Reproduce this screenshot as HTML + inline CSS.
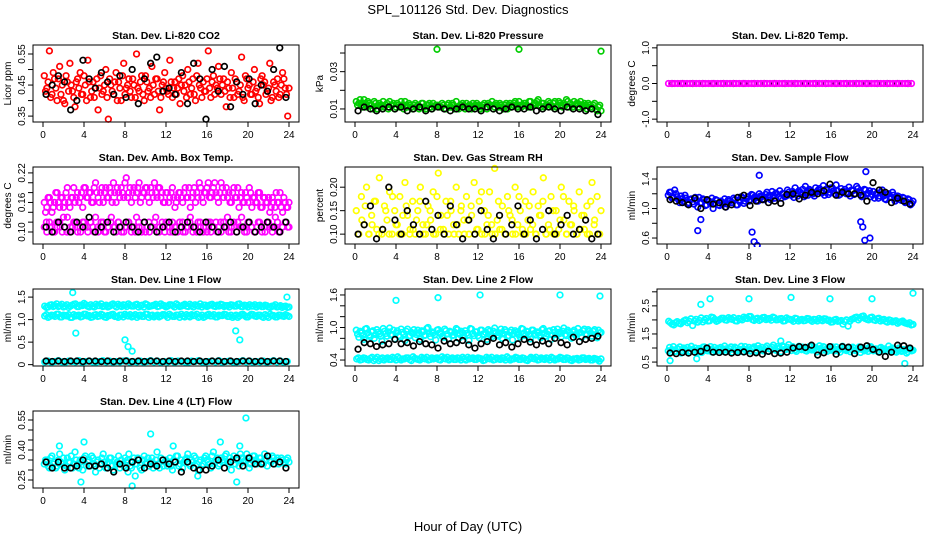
<!DOCTYPE html>
<html><head><meta charset="utf-8"><style>
html,body{margin:0;padding:0;background:#fff;}
svg{display:block;font-family:"Liberation Sans",sans-serif;}
</style></head><body>
<svg id="chart" width="936" height="540" viewBox="0 0 936 540" xmlns="http://www.w3.org/2000/svg">
<rect x="0" y="0" width="936" height="540" fill="#fff"/>
<text x="468" y="14" text-anchor="middle" font-size="13">SPL_101126  Std. Dev. Diagnostics</text>
<text x="468" y="531" text-anchor="middle" font-size="13">Hour of Day (UTC)</text>
</svg>
<script>
// ---------- data ----------
const hourTicks = [0,4,8,12,16,20,24];
const co2Vals = [0.48,0.44,0.56,0.42,0.47,0.40,0.51,0.45,0.39,0.46,0.52,0.43,0.38,0.47,0.49,0.42,0.45,0.53,0.41,0.46,0.44,0.37,0.48,0.43,0.50,0.34,0.45,0.42,0.49,0.46,0.40,0.52,0.44,0.47,0.41,0.45,0.55,0.43,0.48,0.40,0.46,0.44,0.51,0.42,0.47,0.37,0.45,0.49,0.43,0.53,0.41,0.46,0.44,0.39,0.48,0.45,0.50,0.42,0.47,0.40,0.52,0.44,0.46,0.43,0.56,0.41,0.48,0.45,0.51,0.42,0.47,0.38,0.44,0.49,0.41,0.46,0.43,0.54,0.40,0.47,0.45,0.42,0.50,0.44,0.39,0.48,0.46,0.43,0.52,0.41,0.45,0.47,0.42,0.49,0.44,0.35];
const co2Vals2 = [0.43,0.46,0.41,0.49,0.44,0.47,0.42,0.40,0.48,0.43,0.45,0.41,0.46,0.44,0.42,0.48,0.40,0.46,0.43,0.41,0.47,0.44,0.42,0.45,0.41,0.47,0.43,0.46,0.40,0.44,0.48,0.42,0.45,0.43,0.47,0.41,0.44,0.46,0.42,0.48,0.43,0.41,0.45,0.47,0.43,0.41,0.46,0.44,0.42,0.46,0.44,0.42,0.47,0.45,0.43,0.41,0.46,0.44,0.42,0.48,0.45,0.41,0.43,0.47,0.44,0.46,0.42,0.44,0.47,0.45,0.43,0.46,0.41,0.44,0.47,0.42,0.45,0.41,0.48,0.44,0.42,0.46,0.43,0.41,0.47,0.45,0.42,0.44,0.40,0.46,0.43,0.41,0.45,0.47,0.42,0.44];
const co2Black = [0.42,0.45,0.48,0.46,0.37,0.40,0.53,0.47,0.44,0.49,0.46,0.42,0.48,0.41,0.50,0.39,0.47,0.52,0.54,0.43,0.44,0.42,0.49,0.39,0.52,0.47,0.34,0.50,0.43,0.51,0.38,0.46,0.42,0.47,0.39,0.45,0.43,0.50,0.57,0.41];
const presVals = [0.014,0.013,0.012,0.015,0.011,0.013,0.012,0.014,0.010,0.013,0.012,0.011,0.013,0.014,0.012,0.010,0.013,0.011,0.012,0.014,0.011,0.012,0.010,0.013,0.012,0.011,0.013,0.010,0.012,0.011,0.013,0.012,0.012,0.011,0.012,0.010,0.013,0.011,0.012,0.014,0.010,0.012,0.011,0.013,0.012,0.010,0.011,0.013,0.012,0.011,0.013,0.010,0.012,0.014,0.011,0.012,0.013,0.011,0.012,0.010,0.013,0.012,0.014,0.011,0.012,0.012,0.013,0.011,0.014,0.012,0.013,0.015,0.011,0.013,0.012,0.014,0.012,0.013,0.011,0.014,0.012,0.013,0.015,0.011,0.012,0.014,0.013,0.011,0.012,0.013,0.010,0.012,0.011,0.013,0.009,0.012];
const presVals2 = [0.012,0.015,0.011,0.013,0.014,0.012,0.010,0.013,0.012,0.011,0.014,0.012,0.010,0.012,0.013,0.011,0.012,0.014,0.010,0.012,0.013,0.011,0.012,0.011,0.010,0.013,0.011,0.012,0.013,0.010,0.011,0.012,0.011,0.013,0.010,0.012,0.011,0.013,0.010,0.011,0.012,0.013,0.010,0.011,0.012,0.013,0.012,0.011,0.010,0.012,0.011,0.013,0.012,0.010,0.013,0.011,0.012,0.010,0.013,0.012,0.011,0.013,0.012,0.014,0.011,0.013,0.012,0.014,0.011,0.012,0.014,0.012,0.013,0.011,0.012,0.013,0.011,0.014,0.012,0.013,0.011,0.012,0.014,0.013,0.011,0.012,0.013,0.014,0.011,0.012,0.013,0.011,0.012,0.010,0.011,0.009];
const presBlack = [0.009,0.011,0.010,0.009,0.010,0.011,0.010,0.011,0.009,0.010,0.011,0.009,0.010,0.011,0.010,0.009,0.010,0.011,0.010,0.010,0.009,0.011,0.010,0.009,0.010,0.011,0.010,0.010,0.011,0.009,0.010,0.011,0.010,0.009,0.011,0.010,0.010,0.009,0.010,0.007];
const presOutX = [8.0,16.0,24.0];
const presOutY = [0.042,0.042,0.041];
const tempVals = [0,0,0,0,0,0,0,0,0,0,0,0,0,0,0,0,0,0,0,0,0,0,0,0,0,0,0,0,0,0,0,0,0,0,0,0,0,0,0,0,0,0,0,0,0,0,0,0,0,0,0,0,0,0,0,0,0,0,0,0,0,0,0,0,0,0,0,0,0,0,0,0,0,0,0,0,0,0,0,0];
const tempBlack = [0,0,0,0,0,0,0,0,0,0,0,0,0,0,0,0,0,0,0,0,0,0,0,0];
const ambHi = [0.16,0.15,0.17,0.14,0.16,0.18,0.15,0.17,0.16,0.19,0.15,0.17,0.16,0.18,0.17,0.15,0.19,0.17,0.18,0.16,0.20,0.17,0.18,0.16,0.19,0.17,0.18,0.20,0.16,0.18,0.19,0.17,0.21,0.18,0.16,0.19,0.18,0.20,0.17,0.18,0.19,0.16,0.18,0.20,0.17,0.19,0.18,0.16,0.18,0.17,0.19,0.15,0.17,0.18,0.16,0.19,0.17,0.15,0.18,0.16,0.17,0.19,0.16,0.18,0.20,0.17,0.19,0.18,0.16,0.20,0.17,0.19,0.18,0.16,0.19,0.17,0.15,0.18,0.16,0.17,0.19,0.15,0.17,0.16,0.18,0.15,0.17,0.16,0.14,0.17,0.15,0.16,0.18,0.14,0.16,0.15];
const ambHi2 = [0.14,0.17,0.16,0.15,0.18,0.16,0.17,0.15,0.18,0.16,0.17,0.19,0.17,0.16,0.18,0.19,0.17,0.18,0.16,0.19,0.18,0.16,0.19,0.18,0.17,0.19,0.16,0.18,0.19,0.17,0.18,0.20,0.17,0.19,0.18,0.17,0.19,0.16,0.18,0.19,0.17,0.19,0.17,0.18,0.19,0.17,0.16,0.18,0.16,0.18,0.17,0.16,0.18,0.17,0.18,0.17,0.19,0.17,0.19,0.18,0.20,0.17,0.18,0.19,0.17,0.18,0.20,0.17,0.18,0.19,0.18,0.17,0.16,0.18,0.17,0.19,0.17,0.16,0.18,0.16,0.18,0.17,0.16,0.18,0.15,0.17,0.16,0.17,0.15,0.16,0.18,0.16,0.15,0.17,0.15,0.16];
const ambLo = [0.11,0.10,0.12,0.11,0.10,0.11,0.12,0.10,0.11,0.13,0.10,0.11,0.12,0.10,0.11,0.12,0.11,0.10,0.12,0.11,0.13,0.10,0.11,0.12,0.10,0.11,0.12,0.11,0.10,0.12,0.11,0.10,0.11,0.12,0.10,0.11,0.13,0.11,0.10,0.12,0.11,0.10,0.11,0.12,0.10,0.11,0.12,0.10,0.11,0.10,0.12,0.11,0.10,0.11,0.12,0.10,0.11,0.13,0.10,0.11,0.12,0.11,0.10,0.11,0.12,0.10,0.11,0.12,0.11,0.10,0.12,0.11,0.10,0.11,0.12,0.10,0.11,0.13,0.11,0.10,0.12,0.11,0.10,0.11,0.12,0.10,0.11,0.12,0.11,0.10,0.11,0.12,0.10,0.11,0.12,0.11];
const ambLo2 = [0.12,0.11,0.10,0.12,0.11,0.13,0.10,0.11,0.12,0.11,0.10,0.12,0.11,0.12,0.10,0.11,0.12,0.10,0.11,0.13,0.11,0.12,0.10,0.11,0.12,0.11,0.10,0.12,0.11,0.10,0.12,0.11,0.13,0.10,0.11,0.12,0.11,0.10,0.11,0.12,0.10,0.11,0.12,0.11,0.10,0.12,0.11,0.10,0.12,0.11,0.10,0.12,0.11,0.13,0.10,0.11,0.12,0.11,0.10,0.12,0.11,0.10,0.12,0.11,0.10,0.12,0.11,0.13,0.10,0.11,0.12,0.11];
const ambBlack = [0.11,0.10,0.12,0.11,0.10,0.12,0.11,0.13,0.10,0.11,0.12,0.10,0.11,0.12,0.11,0.10,0.12,0.11,0.10,0.11,0.12,0.10,0.11,0.12,0.11,0.10,0.12,0.11,0.10,0.11,0.12,0.10,0.11,0.12,0.10,0.11,0.12,0.11,0.10,0.12];
const rhVals = [0.15,0.10,0.18,0.12,0.20,0.10,0.14,0.17,0.11,0.22,0.10,0.16,0.13,0.19,0.10,0.15,0.12,0.18,0.10,0.21,0.14,0.11,0.17,0.10,0.15,0.20,0.12,0.10,0.16,0.13,0.19,0.10,0.23,0.14,0.11,0.17,0.10,0.15,0.12,0.20,0.10,0.16,0.13,0.18,0.10,0.14,0.21,0.11,0.17,0.10,0.15,0.12,0.19,0.10,0.24,0.13,0.11,0.16,0.10,0.18,0.14,0.10,0.20,0.12,0.15,0.10,0.17,0.13,0.11,0.19,0.10,0.16,0.14,0.22,0.10,0.12,0.18,0.10,0.15,0.11,0.20,0.13,0.10,0.17,0.12,0.15,0.10,0.19,0.14,0.11,0.16,0.10,0.21,0.13,0.18,0.10];
const rhVals2 = [0.10,0.13,0.16,0.10,0.12,0.17,0.10,0.11,0.15,0.10,0.18,0.12,0.10,0.14,0.16,0.10,0.11,0.13,0.17,0.10,0.12,0.15,0.10,0.18,0.11,0.10,0.14,0.17,0.10,0.12,0.15,0.10,0.13,0.16,0.10,0.11,0.19,0.10,0.14,0.12,0.10,0.17,0.11,0.10,0.15,0.13,0.10,0.18,0.11,0.10,0.16,0.12,0.10,0.14,0.17,0.10,0.11,0.15,0.10,0.13,0.18,0.10,0.12,0.16,0.10,0.11,0.14,0.10,0.17,0.12,0.10,0.15];
const rhBlack = [0.10,0.12,0.16,0.09,0.11,0.20,0.13,0.10,0.15,0.12,0.10,0.17,0.11,0.14,0.10,0.16,0.12,0.09,0.13,0.10,0.15,0.11,0.09,0.14,0.10,0.12,0.16,0.10,0.13,0.09,0.11,0.15,0.10,0.12,0.14,0.10,0.11,0.13,0.09,0.10];
const flowVals = [1.18,1.22,1.15,1.20,1.12,1.17,1.10,1.14,1.08,1.13,1.06,1.11,1.15,1.08,1.12,1.05,1.10,1.14,1.07,1.11,1.04,1.09,1.13,1.06,1.10,1.08,1.12,1.05,1.09,1.14,1.10,1.16,1.12,1.18,1.14,1.10,1.17,1.13,1.19,1.15,1.12,1.18,1.21,1.16,1.14,1.20,1.17,1.22,1.18,1.15,1.21,1.24,1.19,1.16,1.22,1.26,1.20,1.17,1.23,1.27,1.21,1.18,1.25,1.22,1.28,1.20,1.24,1.19,1.23,1.26,1.21,1.17,1.24,1.20,1.27,1.22,1.18,1.25,1.21,1.16,1.23,1.19,1.14,1.22,1.17,1.12,1.20,1.15,1.18,1.13,1.16,1.11,1.14,1.09,1.12,1.07];
const flowVals2 = [1.22,1.14,1.25,1.16,1.08,1.13,1.18,1.06,1.12,1.09,1.15,1.02,1.08,1.13,1.04,1.11,1.07,1.00,1.12,1.05,1.10,1.06,1.02,1.12,1.08,1.14,1.05,1.11,1.16,1.07,1.13,1.10,1.19,1.15,1.11,1.20,1.16,1.12,1.22,1.18,1.23,1.14,1.19,1.24,1.20,1.16,1.25,1.19,1.23,1.28,1.17,1.22,1.26,1.30,1.18,1.24,1.20,1.28,1.25,1.22,1.31,1.26,1.19,1.28,1.24,1.32,1.18,1.27,1.23,1.20,1.29,1.25,1.19,1.30,1.22,1.16,1.26,1.20,1.24,1.19,1.14,1.21,1.17,1.25,1.13,1.19,1.16,1.22,1.10,1.17,1.12,1.15,1.08,1.13,1.05,1.10];
const flowOutX = [3.0,3.3,8.3,8.5,8.8,9.0,18.9,19.1,19.3,19.4,19.8];
const flowOutY = [0.70,0.85,0.68,0.55,0.50,1.45,0.82,0.75,0.57,1.50,0.60];
const flowBlack = [1.12,1.10,1.08,1.05,1.14,1.00,1.12,1.06,1.08,1.02,1.05,1.15,1.18,1.04,1.10,1.12,1.08,1.10,1.07,1.19,1.20,1.13,1.18,1.22,1.20,1.24,1.33,1.18,1.22,1.20,1.20,1.18,1.10,1.35,1.25,1.22,1.08,1.14,1.10,1.06];
const l1Hi = [1.30,1.28,1.33,1.31,1.29,1.34,1.30,1.27,1.32,1.35,1.29,1.31,1.33,1.28,1.30,1.34,1.31,1.29,1.32,1.30,1.35,1.28,1.31,1.33,1.29,1.32,1.30,1.34,1.31,1.28,1.33,1.30,1.32,1.29,1.35,1.31,1.30,1.33,1.28,1.32,1.30,1.34,1.29,1.31,1.33,1.30,1.28,1.32,1.31,1.34,1.29,1.30,1.33,1.31,1.28,1.32,1.30,1.35,1.29,1.31,1.33,1.30,1.28,1.32,1.29,1.31,1.27,1.30,1.28,1.31,1.29,1.27];
const l1Hi2 = [1.27,1.32,1.29,1.35,1.31,1.28,1.33,1.30,1.34,1.29,1.32,1.36,1.30,1.33,1.28,1.31,1.35,1.30,1.28,1.33,1.31,1.34,1.29,1.32,1.35,1.30,1.33,1.28,1.32,1.35,1.29,1.31,1.34,1.30,1.32,1.28,1.33,1.31,1.35,1.29,1.32,1.30,1.34,1.28,1.31,1.35,1.32,1.29,1.33,1.30,1.32,1.34,1.29,1.31,1.33,1.30,1.34,1.29,1.32,1.28,1.30,1.33,1.31,1.29,1.32,1.28,1.30,1.33,1.29,1.27,1.30,1.28];
const l1Mid = [1.08,1.05,1.10,1.07,1.12,1.06,1.09,1.11,1.05,1.08,1.10,1.07,1.12,1.09,1.06,1.11,1.08,1.10,1.05,1.09,1.12,1.07,1.10,1.06,1.09,1.11,1.08,1.05,1.10,1.07,1.12,1.09,1.06,1.10,1.08,1.11,1.05,1.09,1.07,1.10,1.12,1.06,1.08,1.11,1.09,1.05,1.10,1.07,1.12,1.08,1.06,1.10,1.09,1.11,1.07,1.05,1.10,1.08,1.12,1.06,1.09,1.11,1.07,1.10,1.05,1.08,1.12,1.09,1.06,1.10,1.07,1.09];
const l1Mid2 = [1.11,1.07,1.09,1.12,1.06,1.10,1.08,1.05,1.11,1.09,1.06,1.12,1.08,1.05,1.10,1.07,1.12,1.06,1.09,1.11,1.07,1.05,1.10,1.12,1.08,1.06,1.11,1.09,1.07,1.12,1.05,1.10,1.08,1.06,1.11,1.09,1.12,1.07,1.10,1.05,1.08,1.11,1.06,1.09,1.12,1.07,1.05,1.10,1.08,1.11,1.06,1.09,1.12,1.07,1.10,1.08,1.05,1.11,1.09,1.06,1.12,1.08,1.10,1.07,1.11,1.05,1.09,1.06,1.10,1.08,1.11,1.07];
const l1Lo = [0.06,0.08,0.05,0.07,0.09,0.06,0.05,0.08,0.07,0.06,0.09,0.05,0.07,0.08,0.06,0.05,0.07,0.09,0.06,0.08,0.05,0.07,0.06,0.08,0.09,0.05,0.07,0.06,0.08,0.05,0.07,0.09,0.06,0.08,0.05,0.07,0.06,0.09,0.05,0.08,0.07,0.06,0.05,0.08,0.07,0.09,0.06,0.05,0.07,0.08,0.06,0.09,0.05,0.07,0.08,0.06,0.05,0.07,0.09,0.06,0.08,0.05,0.07,0.06,0.08,0.05,0.07,0.09,0.06,0.08,0.05,0.07];
const l1OutX = [2.9,3.2,8.0,8.3,8.7,18.8,19.2,23.8];
const l1OutY = [1.60,0.70,0.55,0.40,0.30,0.75,0.55,1.50];
const l1Black = [0.08,0.07,0.08,0.07,0.08,0.08,0.07,0.08,0.08,0.07,0.08,0.07,0.08,0.08,0.07,0.08,0.07,0.08,0.08,0.07,0.08,0.07,0.08,0.08,0.07,0.08,0.07,0.08,0.08,0.07,0.08,0.07,0.08,0.08,0.07,0.08,0.07,0.08,0.08,0.07];
const l2Hi = [0.95,0.82,0.90,0.78,0.98,0.86,0.92,0.80,0.96,0.88,0.75,0.93,0.84,0.99,0.87,0.79,0.94,0.83,0.91,0.76,0.97,0.85,0.89,0.81,0.95,0.78,0.92,0.86,1.00,0.83,0.90,0.77,0.96,0.88,0.82,0.94,0.79,0.91,0.86,0.98,0.80,0.93,0.84,0.89,0.76,0.97,0.85,0.92,0.81,0.95,0.87,0.78,0.93,0.83,0.99,0.86,0.90,0.80,0.96,0.84,0.91,0.77,0.94,0.88,0.82,0.97,0.85,0.92,0.79,0.95,0.86,0.90,0.81,0.98,0.84,0.93,0.78,0.96,0.87,0.91,0.83,0.99,0.85,0.92,0.80,0.95,0.88,0.90,0.82,0.97,0.86,0.93,0.84,0.96,0.81,0.90];
const l2Hi2 = [0.88,0.93,0.85,0.97,0.90,0.83,0.94,0.87,0.91,0.84,0.98,0.89,0.92,0.86,0.95,0.90,0.85,0.97,0.88,0.93,0.84,0.91,0.96,0.87,0.90,0.94,0.85,0.98,0.89,0.92,0.86,0.95,0.90,0.84,0.97,0.88,0.93,0.85,0.91,0.96,0.87,0.90,0.94,0.86,0.98,0.89,0.92,0.85,0.95,0.88,0.91,0.96,0.86,0.93,0.90,0.84,0.97,0.88,0.92,0.85,0.95,0.89,0.91,0.86,0.98,0.90,0.93,0.87,0.95,0.89,0.92,0.86,0.96,0.90,0.88,0.94,0.86,0.91,0.97,0.89,0.93,0.87,0.95,0.90,0.92,0.86,0.98,0.91,0.94,0.88,0.96,0.90,0.93,0.87,0.95,0.91];
const l2Lo = [0.42,0.40,0.44,0.41,0.43,0.39,0.45,0.42,0.40,0.44,0.41,0.43,0.46,0.40,0.42,0.44,0.39,0.43,0.41,0.45,0.42,0.40,0.44,0.43,0.41,0.46,0.42,0.40,0.44,0.41,0.43,0.45,0.40,0.42,0.44,0.41,0.43,0.39,0.45,0.42,0.40,0.44,0.41,0.43,0.46,0.40,0.42,0.44,0.41,0.43,0.39,0.45,0.42,0.40,0.44,0.41,0.43,0.45,0.40,0.42,0.44,0.41,0.43,0.39,0.42,0.40,0.44,0.41,0.43,0.40,0.42,0.38];
const l2Lo2 = [0.44,0.41,0.43,0.40,0.45,0.42,0.39,0.44,0.42,0.41,0.45,0.40,0.43,0.42,0.44,0.41,0.46,0.42,0.40,0.43,0.45,0.41,0.42,0.44,0.40,0.43,0.45,0.42,0.41,0.44,0.40,0.42,0.45,0.43,0.41,0.44,0.42,0.40,0.43,0.45,0.41,0.42,0.44,0.40,0.43,0.42,0.45,0.41,0.44,0.40,0.42,0.43,0.45,0.41,0.42,0.44,0.40,0.43,0.42,0.45,0.41,0.44,0.40,0.42,0.43,0.41,0.44,0.42,0.40,0.43,0.41,0.42];
const l2OutX = [4.0,8.1,12.2,20.0,23.9];
const l2OutY = [1.50,1.55,1.60,1.60,1.58];
const l2Black = [0.60,0.72,0.70,0.65,0.68,0.70,0.78,0.70,0.72,0.66,0.74,0.70,0.68,0.62,0.75,0.70,0.72,0.76,0.68,0.62,0.70,0.74,0.80,0.68,0.72,0.64,0.70,0.78,0.73,0.68,0.75,0.70,0.80,0.72,0.68,0.82,0.74,0.78,0.80,0.84];
const l3Hi = [1.95,1.85,1.90,1.88,1.92,2.00,1.95,1.80,2.02,1.98,1.93,2.05,1.97,2.08,1.95,2.02,2.06,1.99,2.04,2.08,1.96,2.03,2.10,2.05,2.12,1.98,2.06,2.02,2.09,2.04,1.99,2.07,2.01,2.05,1.97,2.03,2.00,2.06,1.96,2.02,1.98,2.04,1.95,2.01,2.05,1.97,2.03,1.99,1.93,2.02,1.96,1.85,2.00,1.95,2.04,2.10,2.06,2.14,2.02,2.08,2.00,2.04,1.96,2.02,1.92,1.98,1.95,1.88,1.94,1.90,1.86,1.82];
const l3Hi2 = [1.90,1.82,1.94,1.86,1.97,1.90,2.04,1.96,1.92,2.07,2.00,1.96,2.10,2.02,1.98,2.06,2.00,2.08,2.02,1.97,2.05,2.00,2.06,2.12,2.01,2.04,1.98,2.08,2.01,2.05,2.10,2.00,2.04,1.96,2.07,2.02,1.95,2.04,2.00,1.97,2.05,1.99,2.02,1.96,2.00,2.04,1.98,1.92,2.00,1.95,1.98,1.94,1.78,2.02,2.08,2.00,2.12,2.05,2.00,2.10,1.98,2.06,2.00,1.95,2.00,1.93,1.97,1.92,1.96,1.88,1.90,1.84];
const l3Lo = [0.90,0.85,1.05,0.88,0.95,0.82,1.00,0.92,0.87,1.06,0.93,0.89,0.98,0.84,1.04,0.91,0.96,0.86,1.02,0.90,0.94,0.88,1.07,0.92,0.97,0.85,1.03,0.90,0.95,0.87,1.05,0.93,0.89,0.99,0.86,1.08,0.94,0.90,1.01,0.88,0.96,1.10,0.92,0.98,0.87,1.04,0.95,1.12,0.91,1.00,0.88,1.06,0.94,0.97,0.89,1.05,0.93,0.99,0.86,1.08,0.92,1.02,0.88,0.96,1.04,0.90,0.95,0.85,1.06,0.93,0.98,0.87,1.03,0.91,0.96,0.84,1.00,0.92,0.88,1.05,0.90,0.97,0.86,1.02,0.93,0.89,1.07,0.91,0.95,0.85,1.00,0.88,0.94,0.82,0.98,0.90];
const l3Lo2 = [1.02,0.94,0.88,0.98,1.04,0.91,0.96,1.02,0.89,0.95,1.00,0.86,0.93,1.03,0.97,0.90,1.05,0.94,0.88,0.99,1.02,0.93,0.97,0.90,1.04,0.95,0.99,0.92,1.06,0.96,0.91,1.02,0.97,1.04,0.92,0.98,1.02,0.95,1.07,0.97,1.02,0.94,1.05,0.99,1.08,0.95,1.02,0.98,1.05,0.93,1.00,0.97,1.03,0.91,0.99,1.06,0.96,1.02,0.94,0.98,1.05,0.95,1.00,0.92,0.98,1.04,0.93,1.00,0.96,0.91,1.02,0.95,0.99,0.92,1.04,0.95,0.90,0.97,1.03,0.93,0.96,0.90,0.99,0.94,0.97,0.91,0.95,1.00,0.88,0.94,0.97,0.90,0.93,0.87,0.95,0.92];
const l3OutX = [0.3,2.9,3.3,4.2,8.0,11.1,12.1,15.9,20.0,23.2,24.0];
const l3OutY = [0.55,0.62,2.55,2.75,2.75,1.25,2.80,2.75,2.75,0.45,2.95];
const l3Black = [0.82,0.80,0.84,0.82,0.85,0.88,1.00,0.85,0.84,0.85,0.82,0.84,0.86,0.80,0.83,0.78,0.88,0.80,0.82,0.85,1.00,1.05,1.02,1.10,0.75,0.83,1.05,0.78,1.05,1.03,0.80,1.03,1.08,0.95,0.85,0.70,0.85,1.10,1.08,1.00];
const l4Vals = [0.33,0.35,0.31,0.37,0.34,0.32,0.38,0.33,0.30,0.36,0.34,0.31,0.39,0.33,0.35,0.30,0.37,0.34,0.32,0.36,0.29,0.35,0.33,0.38,0.31,0.34,0.36,0.30,0.33,0.37,0.35,0.32,0.34,0.38,0.31,0.36,0.33,0.35,0.30,0.37,0.34,0.32,0.36,0.33,0.39,0.31,0.35,0.34,0.32,0.36,0.30,0.34,0.37,0.33,0.31,0.35,0.38,0.32,0.34,0.36,0.30,0.35,0.33,0.37,0.34,0.31,0.39,0.35,0.32,0.36,0.34,0.38,0.33,0.30,0.37,0.35,0.32,0.36,0.34,0.38,0.31,0.35,0.37,0.33,0.36,0.34,0.38,0.32,0.35,0.37,0.33,0.36,0.34,0.35,0.33,0.36];
const l4Vals2 = [0.35,0.32,0.36,0.33,0.31,0.35,0.34,0.36,0.32,0.34,0.37,0.33,0.35,0.31,0.34,0.36,0.32,0.35,0.37,0.33,0.34,0.31,0.36,0.34,0.33,0.36,0.32,0.35,0.34,0.31,0.33,0.36,0.35,0.32,0.34,0.33,0.36,0.31,0.35,0.33,0.36,0.34,0.31,0.35,0.33,0.36,0.32,0.35,0.34,0.32,0.35,0.37,0.32,0.35,0.34,0.36,0.33,0.35,0.37,0.33,0.34,0.32,0.36,0.35,0.33,0.37,0.34,0.36,0.33,0.35,0.37,0.34,0.36,0.35,0.33,0.36,0.38,0.34,0.35,0.36,0.33,0.37,0.35,0.34,0.36,0.33,0.35,0.37,0.34,0.36,0.35,0.33,0.36,0.34,0.35,0.34];
const l4OutX = [1.6,3.7,4.0,8.3,8.7,9.0,10.5,12.7,15.1,17.3,18.9,19.2,19.8];
const l4OutY = [0.42,0.24,0.44,0.29,0.22,0.27,0.48,0.42,0.27,0.44,0.24,0.42,0.56];
const l4Black = [0.34,0.31,0.34,0.31,0.31,0.32,0.35,0.32,0.32,0.33,0.31,0.29,0.33,0.31,0.34,0.35,0.31,0.33,0.32,0.35,0.33,0.34,0.29,0.34,0.31,0.30,0.30,0.32,0.35,0.31,0.34,0.36,0.32,0.36,0.33,0.33,0.37,0.33,0.34,0.31];

const co2Ticks=[0.35,0.40,0.45,0.50,0.55], co2Labels=["0.35","","0.45","","0.55"];
const presTicks=[0.01,0.02,0.03,0.04], presLabels=["0.01","","0.03",""];
const tempTicks=[-1,-0.5,0,0.5,1], tempLabels=["-1.0","","0.0","","1.0"];
const ambTicks=[0.10,0.12,0.14,0.16,0.18,0.20,0.22], ambLabels=["0.10","","","0.16","","","0.22"];
const rhTicks=[0.10,0.15,0.20], rhLabels=["0.10","0.15","0.20"];
const flowTicks=[0.6,0.8,1.0,1.2,1.4], flowLabels=["0.6","","1.0","","1.4"];
const l1Ticks=[0,0.5,1.0,1.5], l1Labels=["0","0.5","1.0","1.5"];
const l2Ticks=[0.4,0.6,0.8,1.0,1.2,1.4,1.6], l2Labels=["0.4","","","1.0","","","1.6"];
const l3Ticks=[0.5,1.0,1.5,2.0,2.5,3.0], l3Labels=["0.5","","1.5","","2.5",""];
const l4Ticks=[0.25,0.30,0.35,0.40,0.45,0.50,0.55], l4Labels=["0.25","","","0.40","","","0.55"];

// ---------- drawing ----------
const NS="http://www.w3.org/2000/svg";
const svg=document.getElementById('chart');
const COLS=[33,345,657], ROWS=[45,167,289,411], W=266, H=77;
function mk(tag,attrs,parent){const e=document.createElementNS(NS,tag);for(const k in attrs)e.setAttribute(k,attrs[k]);(parent||svg).appendChild(e);return e;}

function panel(p){
  const L=COLS[p.col], T=ROWS[p.row];
  const g=mk('g',{});
  
  
  const xs=h=>L+10+h*(W-20)/24;
  const ys=v=>T+H-(v-p.ymin)/(p.ymax-p.ymin)*H;
  const t=mk('text',{x:L+W/2,y:T-6,'text-anchor':'middle','font-size':10.5,'font-weight':'bold'},g);
  t.textContent=p.title;
  
  
  const yl=mk('text',{x:0,y:0,'text-anchor':'middle','font-size':10,transform:`translate(${L-22},${T+H/2}) rotate(-90)`},g);
  yl.textContent=p.ylab;
  
  
  hourTicks.forEach(h=>{
    mk('line',{x1:xs(h),x2:xs(h),y1:T+H,y2:T+H+5,stroke:'#000','stroke-width':1},g);
    const tl=mk('text',{x:xs(h),y:T+H+16,'text-anchor':'middle','font-size':10},g);
    tl.textContent=h;
    
    
  });
  p.ticks.forEach((v,i)=>{
    mk('line',{x1:L-5,x2:L,y1:ys(v),y2:ys(v),stroke:'#000','stroke-width':1},g);
    if(p.labels[i]){
      const tl=mk('text',{x:0,y:0,'text-anchor':'middle','font-size':10,transform:`translate(${L-8},${ys(v)}) rotate(-90)`},g);
      tl.textContent=p.labels[i];
      
      
    }
  });
  const clip='clip-'+p.key;
  const cp=mk('clipPath',{id:clip},g); mk('rect',{x:L-3,y:T-3,width:W+6,height:H+6},cp);
  const pg=mk('g',{'clip-path':`url(#${clip})`},g);
  p.series.forEach(s=>{
    const n=s.vals.length;
    const off=s.off||0;
    s.vals.forEach((v,i)=>{
      const hx = s.xs ? s.xs[i] : (i+0.5+off)*24/n;
      const c=mk('circle',{cx:xs(hx),cy:ys(v),r:2.8,fill:'none',stroke:s.color,'stroke-width':1.7},pg);
      
      
    });
  });
  const box=mk('rect',{x:L,y:T,width:W,height:H,fill:'none',stroke:'#000','stroke-width':1},g);
  
  
}

const BLK='#000', CY='#00ffff';
panel({key:'co2',col:0,row:0,title:'Stan. Dev. Li-820 CO2',ylab:'Licor ppm',ymin:0.331,ymax:0.579,ticks:co2Ticks,labels:co2Labels,
  series:[{vals:co2Vals,color:'#ff0000'},{vals:co2Vals2,color:'#ff0000',off:0.5},{vals:co2Black,color:BLK}]});
panel({key:'pressure',col:1,row:0,title:'Stan. Dev. Li-820 Pressure',ylab:'kPa',ymin:0.003,ymax:0.0443,ticks:presTicks,labels:presLabels,
  series:[{vals:presVals,color:'#00cd00'},{vals:presVals2,color:'#00cd00',off:0.5},{vals:presOutY,xs:presOutX,color:'#00cd00'},{vals:presBlack,color:BLK}]});
panel({key:'temp',col:2,row:0,title:'Stan. Dev. Li-820 Temp.',ylab:'degrees C',ymin:-1.08,ymax:1.08,ticks:tempTicks,labels:tempLabels,
  series:[{vals:tempBlack,color:BLK},{vals:tempVals,color:'#ff00ff'}]});
panel({key:'ambbox',col:0,row:1,title:'Stan. Dev. Amb. Box Temp.',ylab:'degrees C',ymin:0.0756,ymax:0.232,ticks:ambTicks,labels:ambLabels,
  series:[{vals:ambHi,color:'#ff00ff'},{vals:ambHi2,color:'#ff00ff',off:0.5},{vals:ambLo,color:'#ff00ff'},{vals:ambLo2,color:'#ff00ff',off:0.5},{vals:ambBlack,color:BLK}]});
panel({key:'rh',col:1,row:1,title:'Stan. Dev. Gas Stream RH',ylab:'percent',ymin:0.079,ymax:0.243,ticks:rhTicks,labels:rhLabels,
  series:[{vals:rhVals,color:'#ffff00'},{vals:rhVals2,color:'#ffff00',off:0.5},{vals:rhBlack,color:BLK}]});
panel({key:'sampleflow',col:2,row:1,title:'Stan. Dev. Sample Flow',ylab:'ml/min',ymin:0.519,ymax:1.563,ticks:flowTicks,labels:flowLabels,
  series:[{vals:flowVals,color:'#0000ff'},{vals:flowVals2,color:'#0000ff',off:0.5},{vals:flowOutY,xs:flowOutX,color:'#0000ff'},{vals:flowBlack,color:BLK}]});
panel({key:'line1',col:0,row:2,title:'Stan. Dev. Line 1 Flow',ylab:'ml/min',ymin:-0.03,ymax:1.68,ticks:l1Ticks,labels:l1Labels,
  series:[{vals:l1Hi,color:CY},{vals:l1Hi2,color:CY,off:0.5},{vals:l1Mid,color:CY},{vals:l1Mid2,color:CY,off:0.5},{vals:l1Lo,color:CY},{vals:l1OutY,xs:l1OutX,color:CY},{vals:l1Black,color:BLK}]});
panel({key:'line2',col:1,row:2,title:'Stan. Dev. Line 2 Flow',ylab:'ml/min',ymin:0.29,ymax:1.71,ticks:l2Ticks,labels:l2Labels,
  series:[{vals:l2Hi,color:CY},{vals:l2Hi2,color:CY,off:0.5},{vals:l2Lo,color:CY},{vals:l2Lo2,color:CY,off:0.5},{vals:l2OutY,xs:l2OutX,color:CY},{vals:l2Black,color:BLK}]});
panel({key:'line3',col:2,row:2,title:'Stan. Dev. Line 3 Flow',ylab:'ml/min',ymin:0.36,ymax:3.1,ticks:l3Ticks,labels:l3Labels,
  series:[{vals:l3Hi,color:CY},{vals:l3Hi2,color:CY,off:0.5},{vals:l3Lo,color:CY},{vals:l3Lo2,color:CY,off:0.5},{vals:l3OutY,xs:l3OutX,color:CY},{vals:l3Black,color:BLK}]});
panel({key:'line4',col:0,row:3,title:'Stan. Dev. Line 4 (LT) Flow',ylab:'ml/min',ymin:0.21,ymax:0.595,ticks:l4Ticks,labels:l4Labels,
  series:[{vals:l4Vals,color:CY},{vals:l4Vals2,color:CY,off:0.5},{vals:l4OutY,xs:l4OutX,color:CY},{vals:l4Black,color:BLK}]});
</script>
</body></html>
